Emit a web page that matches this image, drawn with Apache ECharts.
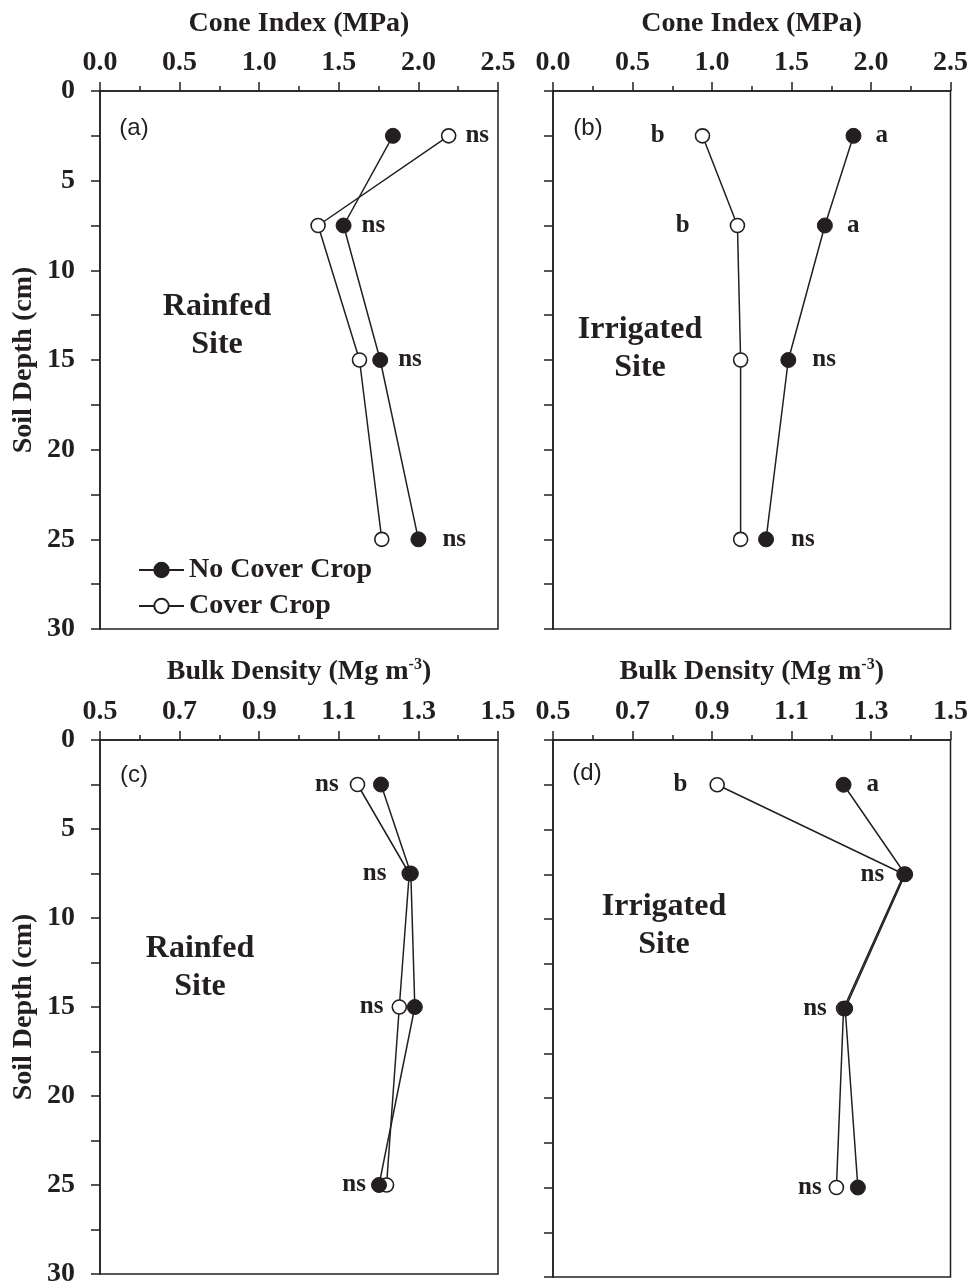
<!DOCTYPE html>
<html>
<head>
<meta charset="utf-8">
<script src="https://cdn.jsdelivr.net/npm/echarts@6/dist/echarts.min.js"></script>
<style>
html,body{margin:0;padding:0;background:#fff;}
#chart{width:971px;height:1288px;}
</style>
</head>
<body>
<div id="chart"></div>
<script>
// ---------------- DATA ----------------
const depths = [2.5, 7.5, 15, 25];
const depthTicks = [0, 5, 10, 15, 20, 25, 30];
const coneTicks = [0.0, 0.5, 1.0, 1.5, 2.0, 2.5];
const bulkTicks = [0.5, 0.7, 0.9, 1.1, 1.3, 1.5];

// Cone index (MPa)
const ciRainNCC = [1.84, 1.53, 1.76, 2.00];
const ciRainCC  = [2.19, 1.37, 1.63, 1.77];
const ciIrrNCC  = [1.89, 1.71, 1.48, 1.34];
const ciIrrCC   = [0.94, 1.16, 1.18, 1.18];
// Bulk density (Mg m-3)
const bdRainNCC = [1.206, 1.281, 1.291, 1.201];
const bdRainCC  = [1.147, 1.277, 1.252, 1.220];
const bdIrrNCC  = [1.231, 1.386, 1.235, 1.267];
const bdIrrCC   = [0.913, 1.383, 1.231, 1.213];

// significance letters
const sigA_NCC = ['', 'ns', 'ns', 'ns'];
const sigA_CC  = ['ns', '', '', ''];
const sigB_NCC = ['a', 'a', 'ns', 'ns'];
const sigB_CC  = ['b', 'b', '', ''];
const sigC_NCC = ['', '', '', 'ns'];
const sigC_CC  = ['ns', 'ns', 'ns', ''];
const sigD_NCC = ['a', '', '', ''];
const sigD_CC  = ['b', 'ns', 'ns', 'ns'];

const seriesNames = ['No Cover Crop', 'Cover Crop'];
const siteNames = ['Rainfed\nSite', 'Irrigated\nSite', 'Rainfed\nSite', 'Irrigated\nSite'];
const panelTags = ['(a)', '(b)', '(c)', '(d)'];

// ---------------- STYLE ----------------
const INK = '#231f20';
const SERIF = '"Liberation Serif", "Times New Roman", serif';
const SANS = '"Liberation Sans", Arial, sans-serif';
const FS = 28;

const grids = [
  {left: 100, top: 91, width: 398, height: 538},
  {left: 553, top: 91, width: 399, height: 538},
  {left: 100, top: 740, width: 398, height: 537},
  {left: 553, top: 740, width: 399, height: 537}
];

function xAxisFor(i) {
  const cone = i < 2;
  const ticks = cone ? coneTicks : bulkTicks;
  return {
    type: 'value', gridIndex: i, position: 'top',
    min: ticks[0], max: ticks[ticks.length - 1],
    interval: ticks[1] - ticks[0],
    name: cone ? 'Cone Index (MPa)' : '{t|Bulk Density (Mg m}{s|-3}{t|)}',
    nameLocation: 'middle', nameGap: 53,
    nameTextStyle: {
      fontFamily: SERIF, fontWeight: 'bold', fontSize: FS, color: INK,
      rich: {
        t: {fontFamily: SERIF, fontWeight: 'bold', fontSize: FS, color: INK},
        s: {fontFamily: SERIF, fontWeight: 'bold', fontSize: 16, color: INK, padding: [0, 0, 14, 0]}
      }
    },
    axisLine: {show: true, lineStyle: {color: INK, width: 1.5}},
    axisTick: {show: true, inside: false, length: 9, lineStyle: {color: INK, width: 1.5}},
    minorTick: {show: true, splitNumber: 2, length: 5, lineStyle: {color: INK, width: 1.5}},
    splitLine: {show: false}, minorSplitLine: {show: false},
    axisLabel: {
      margin: 14, fontFamily: SERIF, fontWeight: 'bold', fontSize: FS, color: INK,
      formatter: v => v.toFixed(1)
    }
  };
}

function yAxisFor(i) {
  const showLab = (i % 2 === 0);
  return {
    type: 'value', gridIndex: i, inverse: true, position: 'left',
    min: depthTicks[0], max: depthTicks[depthTicks.length - 1],
    interval: depthTicks[1] - depthTicks[0],
    name: showLab ? 'Soil Depth (cm)' : '',
    nameLocation: 'middle', nameGap: 62, nameRotate: 90,
    nameTextStyle: {fontFamily: SERIF, fontWeight: 'bold', fontSize: FS, color: INK},
    axisLine: {show: true, lineStyle: {color: INK, width: 1.5}},
    axisTick: {show: true, inside: false, length: 9, lineStyle: {color: INK, width: 1.5}},
    minorTick: {show: true, splitNumber: 2, length: 9, lineStyle: {color: INK, width: 1.5}},
    splitLine: {show: false}, minorSplitLine: {show: false},
    axisLabel: {
      show: showLab, margin: 25, fontFamily: SERIF, fontWeight: 'bold', fontSize: FS, color: INK
    }
  };
}

function labelStyle(text, side, dist) {
  return {
    show: text !== '', formatter: text, position: side, distance: dist,
    fontFamily: SERIF, fontWeight: 'bold', fontSize: 25, color: INK
  };
}

function makeSeries(i, name, xs, sigs, side, dists, filled) {
  return {
    type: 'line', name: name, xAxisIndex: i, yAxisIndex: i,
    data: xs.map((x, k) => ({value: [x, depths[k]], label: labelStyle(sigs[k], side, dists[k])})),
    symbol: 'circle', symbolSize: filled ? 15 : 14,
    lineStyle: {color: INK, width: 1.5},
    itemStyle: filled ? {color: INK, borderColor: INK, borderWidth: 1}
                      : {color: '#ffffff', borderColor: INK, borderWidth: 1.6},
    emphasis: {disabled: true},
    z: filled ? 4 : 3,
    animation: false
  };
}

const series = [
  makeSeries(0, seriesNames[1], ciRainCC, sigA_CC, 'right', [9, 10, 10, 10], false),
  makeSeries(0, seriesNames[0], ciRainNCC, sigA_NCC, 'right', [10, 10, 10, 16], true),
  makeSeries(1, seriesNames[1], ciIrrCC, sigB_CC, 'left', [30, 40, 10, 10], false),
  makeSeries(1, seriesNames[0], ciIrrNCC, sigB_NCC, 'right', [14, 14, 16, 17], true),
  makeSeries(2, seriesNames[1], bdRainCC, sigC_CC, 'left', [11, 15, 8, 6], false),
  makeSeries(2, seriesNames[0], bdRainNCC, sigC_NCC, 'left', [6, 6, 6, 5], true),
  makeSeries(3, seriesNames[1], bdIrrCC, sigD_CC, 'left', [22, 12, 9, 7], false),
  makeSeries(3, seriesNames[0], bdIrrNCC, sigD_NCC, 'right', [15, 12, 9, 7], true)
];

const siteCenters = [[217, 326], [640, 349], [200, 968], [664, 926]];
const tagCenters = [[134, 128], [588, 128], [134, 775], [587, 773]];

const graphic = [];
siteNames.forEach((t, i) => {
  graphic.push({
    type: 'text', x: siteCenters[i][0], y: siteCenters[i][1], z: 10,
    style: {text: t, fill: INK, font: 'bold 32px ' + SERIF, align: 'center',
            verticalAlign: 'middle', lineHeight: 38}
  });
});
panelTags.forEach((t, i) => {
  graphic.push({
    type: 'text', x: tagCenters[i][0], y: tagCenters[i][1], z: 10,
    style: {text: t, fill: INK, font: '24px ' + SANS, align: 'center', verticalAlign: 'middle'}
  });
});

const option = {
  backgroundColor: '#ffffff',
  animation: false,
  grid: grids.map(g => Object.assign({show: true, borderColor: INK, borderWidth: 1.5,
                                       backgroundColor: 'transparent', containLabel: false}, g)),
  xAxis: [0, 1, 2, 3].map(xAxisFor),
  yAxis: [0, 1, 2, 3].map(yAxisFor),
  legend: {
    data: seriesNames, orient: 'vertical', left: 133, top: 551,
    itemWidth: 45, itemHeight: 18, itemGap: 8, selectedMode: false,
    textStyle: {fontFamily: SERIF, fontWeight: 'bold', fontSize: 28, color: INK, padding: [0, 0, 0, 0]}
  },
  graphic: graphic,
  series: series
};

const chart = echarts.init(document.getElementById('chart'), null, {renderer: 'canvas'});
chart.setOption(option);
</script>
</body>
</html>
